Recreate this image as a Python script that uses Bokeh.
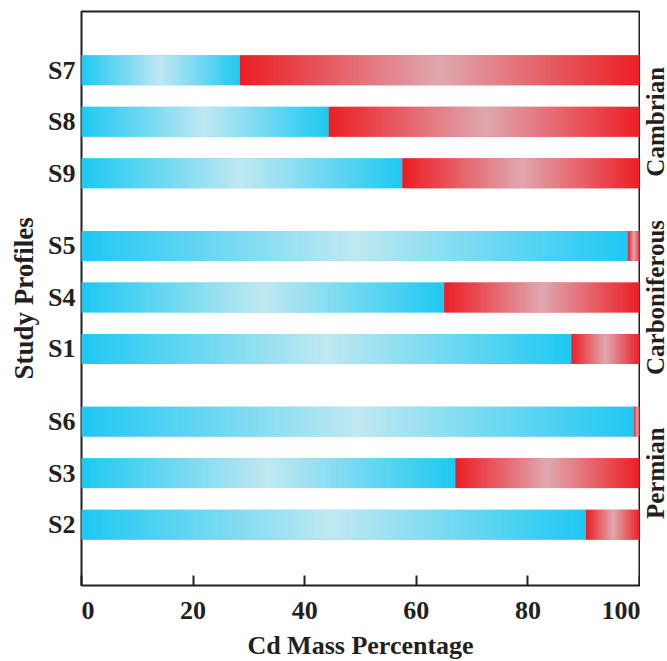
import numpy as np
from math import pi
from bokeh.plotting import figure
from bokeh.layouts import row
from bokeh.models import ColumnDataSource, Range1d, FixedTicker
from bokeh.core.properties import value
from bokeh.embed import file_html
from bokeh.resources import INLINE

# ---- data -------------------------------------------------------------
profiles = ["S7", "S8", "S9", "S5", "S4", "S1", "S6", "S3", "S2"]
periods = ["Cambrian", "Cambrian", "Cambrian",
           "Carboniferous", "Carboniferous", "Carboniferous",
           "Permian", "Permian", "Permian"]
period_names = ["Cambrian", "Carboniferous", "Permian"]
blue_pct = [28.4, 44.3, 57.5, 97.9, 65.0, 87.8, 99.0, 67.0, 90.4]
red_pct = [round(100 - v, 1) for v in blue_pct]
x_ticks = [0, 20, 40, 60, 80, 100]
x_tick_labels = ["\u20070", "20", "40", "60", "80", "100"]

# ---- layout helpers ---------------------------------------------------
STEP = 100          # spacing between bars inside a group
GAP = 41            # extra spacing between period groups
BAR_H = 58
n = len(profiles)
y_pos = []
for k, per in enumerate(periods):
    g = period_names.index(per)
    y_pos.append((n - 1 - k) * STEP + GAP * (len(period_names) - 1 - g))
group_centers = [float(np.mean([yy for yy, per in zip(y_pos, periods) if per == name]))
                 for name in period_names]

BLUE_EDGE = np.array([30, 200, 242])
BLUE_MID = np.array([192, 232, 242])
RED_EDGE = np.array([236, 30, 36])
RED_MID = np.array([224, 168, 176])
K = 240


def hexcol(c):
    c = np.clip(np.round(c), 0, 255).astype(int)
    return "#%02x%02x%02x" % tuple(c)


def grad_image(edge, mid):
    t = (np.arange(K) + 0.5) / K
    w = 1 - np.abs(2 * t - 1)
    rgb = edge[None, :] + (mid - edge)[None, :] * w[:, None]
    rgba = np.empty((1, K, 4), dtype=np.uint8)
    rgba[0, :, :3] = np.clip(np.round(rgb), 0, 255).astype(np.uint8)
    rgba[0, :, 3] = 255
    return rgba.view(dtype=np.uint32).reshape((1, K))


seg = dict(left=[], right=[], y=[], color=[])
img = dict(image=[], x=[], y=[], dw=[], dh=[])
for y, b, r in zip(y_pos, blue_pct, red_pct):
    for start, width, edge, mid in ((0.0, b, BLUE_EDGE, BLUE_MID),
                                    (b, r, RED_EDGE, RED_MID)):
        if width <= 0:
            continue
        seg["left"].append(start)
        seg["right"].append(start + width)
        seg["y"].append(y)
        seg["color"].append(hexcol((edge + mid) / 2))
        img["image"].append(grad_image(edge, mid))
        img["x"].append(start)
        img["y"].append(y - BAR_H / 2)
        img["dw"].append(width)
        img["dh"].append(BAR_H)

FONT = "Liberation Serif"
INK = "#231f20"
FRAME_W = 558
FRAME_H = 574
TOP = 11
BOTTOM = 76
LEFT = 81
SIDE_W = 27

yr = Range1d(-118, 996)
p = figure(frame_width=FRAME_W, frame_height=FRAME_H, output_backend="svg",
           toolbar_location=None,
           x_range=Range1d(0, 100), y_range=yr,
           min_border_left=LEFT, min_border_right=1, min_border_top=TOP,
           min_border_bottom=BOTTOM)

p.hbar(y="y", left="left", right="right", height=BAR_H,
       source=ColumnDataSource(seg), fill_color="color", line_color=None)
p.image_rgba(image="image", x="x", y="y", dw="dw", dh="dh",
             source=ColumnDataSource(img))

p.xgrid.visible = False
p.ygrid.visible = False
p.outline_line_color = INK
p.outline_line_width = 2
p.background_fill_color = "white"
p.border_fill_color = "white"

# x axis
xa = p.xaxis[0]
xa.ticker = FixedTicker(ticks=x_ticks)
xa.major_label_overrides = {t: s for t, s in zip(x_ticks, x_tick_labels)}
xa.axis_line_color = None
xa.major_tick_in = 10
xa.major_tick_out = 0
xa.major_tick_line_width = 2
xa.major_tick_line_color = INK
xa.minor_tick_line_color = None
xa.major_label_standoff = 10
xa.major_label_text_font = FONT
xa.major_label_text_font_style = "bold"
xa.major_label_text_font_size = "26px"
xa.major_label_text_color = INK
xa.axis_label = "Cd Mass Percentage"
xa.axis_label_text_font = FONT
xa.axis_label_text_font_style = "bold"
xa.axis_label_text_font_size = "26px"
xa.axis_label_text_color = INK
xa.axis_label_standoff = 3

# y axis
ya = p.yaxis[0]
ya.ticker = FixedTicker(ticks=y_pos)
ya.major_label_overrides = {yy: name for yy, name in zip(y_pos, profiles)}
ya.axis_line_color = None
ya.major_tick_line_color = None
ya.minor_tick_line_color = None
ya.major_label_standoff = 0
ya.major_label_text_font = FONT
ya.major_label_text_font_style = "bold"
ya.major_label_text_font_size = "26px"
ya.major_label_text_color = INK
ya.axis_label = "Study Profiles"
ya.axis_label_text_font = FONT
ya.axis_label_text_font_style = "bold"
ya.axis_label_text_font_size = "27px"
ya.axis_label_text_color = INK
ya.axis_label_standoff = 6

# period labels on the right, in a narrow strip sharing the y range
side = figure(frame_width=SIDE_W, frame_height=FRAME_H, output_backend="svg",
              toolbar_location=None, x_range=Range1d(0, SIDE_W), y_range=yr,
              x_axis_location=None, y_axis_location=None,
              min_border_left=0, min_border_right=0, min_border_top=TOP,
              min_border_bottom=BOTTOM)
side.xgrid.visible = False
side.ygrid.visible = False
side.outline_line_color = None
side.background_fill_color = "white"
side.border_fill_color = "white"
side.text(x=[1] * len(period_names), y=group_centers, text=period_names,
          angle=pi / 2, text_align="center", text_baseline="top",
          text_font=value(FONT), text_font_style="bold",
          text_font_size="25px", text_color=INK)

layout = row(p, side, spacing=0)
open("out.html", "w").write(file_html(layout, INLINE))
